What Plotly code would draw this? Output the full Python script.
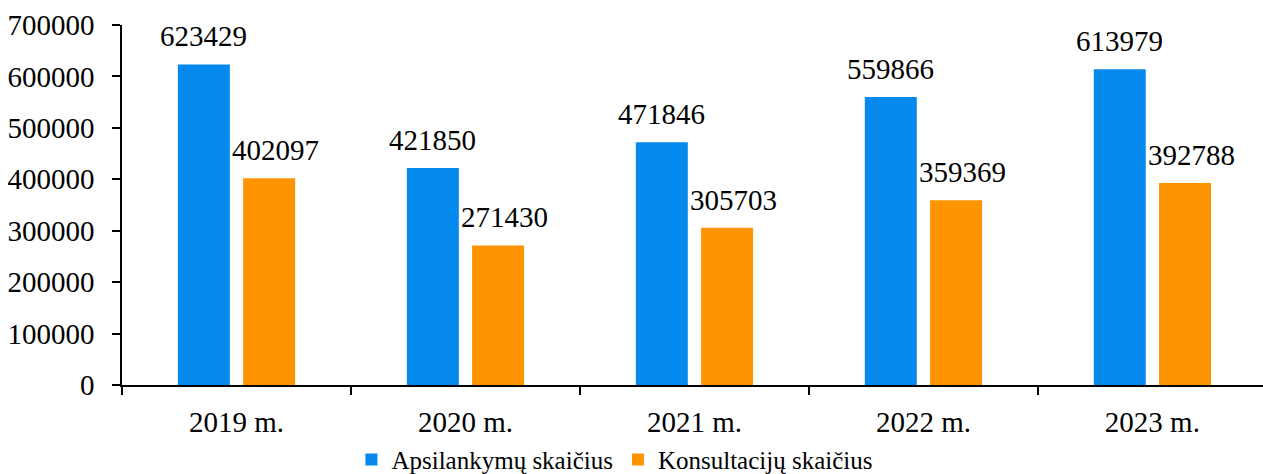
import plotly.graph_objects as go

categories = ["2019 m.", "2020 m.", "2021 m.", "2022 m.", "2023 m."]
apsilankymai = [623429, 421850, 471846, 559866, 613979]
konsultacijos = [402097, 271430, 305703, 359369, 392788]
series_names = ["Apsilankymų skaičius", "Konsultacijų skaičius"]
y_ticks = [0, 100000, 200000, 300000, 400000, 500000, 600000, 700000]

BLUE = "#0589EC"
ORANGE = "#FF9400"
FONT = "Liberation Serif, Times New Roman, serif"
FS = 29

fig = go.Figure()
fig.add_trace(go.Bar(
    x=categories, y=apsilankymai, name=series_names[0],
    marker=dict(color=BLUE, line=dict(width=0)),
    offset=-0.256, width=0.227,
))
fig.add_trace(go.Bar(
    x=categories, y=konsultacijos, name=series_names[1],
    marker=dict(color=ORANGE, line=dict(width=0)),
    offset=0.029, width=0.227,
))

for i, c in enumerate(categories):
    fig.add_annotation(x=i - 0.1425, y=apsilankymai[i], xref="x", yref="y",
                       text=str(apsilankymai[i]), showarrow=False,
                       yanchor="bottom", yshift=10,
                       font=dict(family=FONT, size=FS, color="black"))
    fig.add_annotation(x=i + 0.1425, y=konsultacijos[i], xref="x", yref="y",
                       text=str(konsultacijos[i]), showarrow=False,
                       yanchor="bottom", yshift=10, xshift=6,
                       font=dict(family=FONT, size=FS, color="black"))

fig.update_layout(
    width=1263, height=474,
    margin=dict(l=122, r=0, t=25, b=89, autoexpand=False),
    paper_bgcolor="white", plot_bgcolor="white",
    barmode="overlay",
    font=dict(family=FONT, size=FS, color="black"),
    showlegend=True,
    legend=dict(orientation="h", x=0.432, xanchor="center",
                yref="container", y=0.03, yanchor="middle",
                font=dict(family=FONT, size=25, color="black"),
                itemclick=False, itemdoubleclick=False,
                bgcolor="rgba(0,0,0,0)", tracegroupgap=0),
)
fig.update_xaxes(
    type="category", range=[-0.5, 4.483], automargin=False,
    showline=True, linecolor="black", linewidth=1.5,
    ticks="outside", tickson="boundaries", ticklen=8, tickcolor="black",
    tickwidth=1.5, showgrid=False, zeroline=False, ticklabelstandoff=10,
    tickfont=dict(family=FONT, size=FS, color="black"),
)
fig.update_yaxes(
    range=[0, 700000], tickvals=y_ticks, ticktext=[str(v) for v in y_ticks],
    automargin=False,
    showline=True, linecolor="black", linewidth=1.5,
    ticks="outside", ticklen=8, tickcolor="black", tickwidth=1.5,
    showgrid=False, zeroline=False, ticklabelstandoff=12,
    tickfont=dict(family=FONT, size=FS, color="black"),
)

fig.write_html(
    "out.html",
    config={"displayModeBar": False},
    post_script="document.body.style.margin='0';document.body.style.overflow='hidden';",
)
